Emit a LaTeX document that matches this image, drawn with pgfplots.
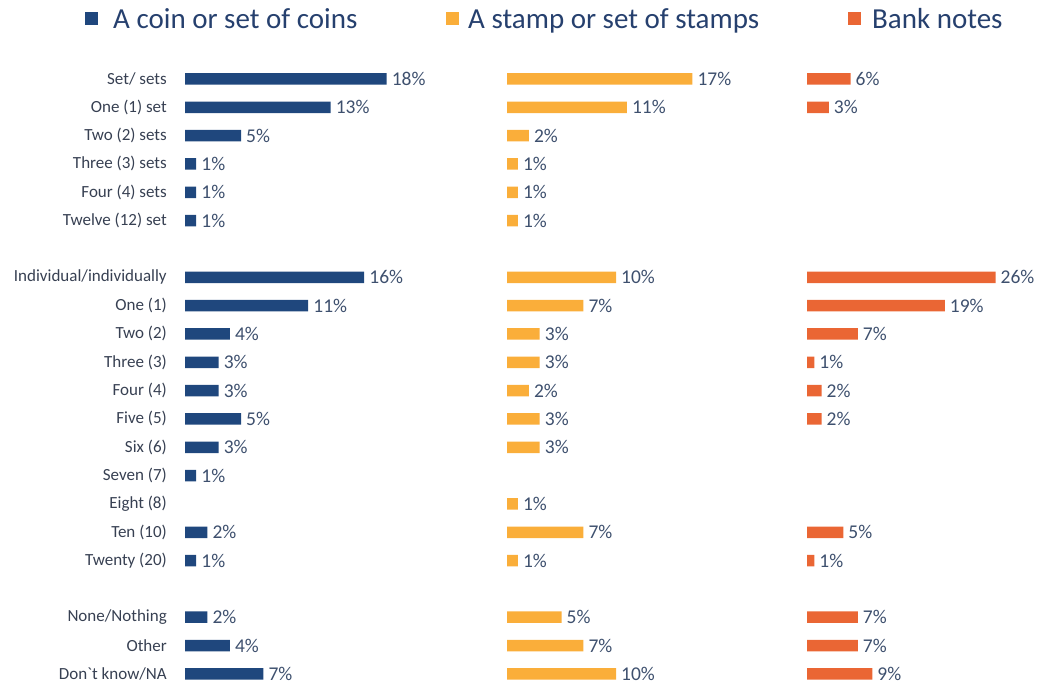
\documentclass[border=0pt]{standalone}
\usepackage{fontspec}
\setmainfont{Carlito}
\usepackage{pgfplots}
\pgfplotsset{compat=1.18}
\definecolor{coin}{RGB}{31,71,125}
\definecolor{stamp}{RGB}{250,174,58}
\definecolor{bank}{RGB}{234,102,52}
\definecolor{valtxt}{RGB}{62,80,110}
\definecolor{cattxt}{RGB}{55,64,82}
\definecolor{legtxt}{RGB}{38,64,110}

\pgfplotsset{
 panel/.style={
  y=28.33bp, y dir=reverse, ymin=-0.5, ymax=21.5,
  xmin=0,
  axis line style={draw=none}, major tick length=0pt,
  xtick=\empty,
  xbar, bar width=11.5bp,
  clip=false,
  /pgf/number format/assume math mode=true,
  nodes near coords={\pgfmathprintnumber{\pgfplotspointmeta}\%},
  every node near coord/.append style={anchor=west, inner sep=0pt, xshift=5bp, font=\fontsize{19.5bp}{22bp}\selectfont, text=valtxt},
  legend style={draw=none, fill=none, inner sep=0pt, anchor=west, font=\fontsize{29bp}{32bp}\selectfont, text=legtxt, legend cell align=left, nodes={inner sep=0pt}},
  area legend,
  legend image code/.code={\fill[##1] (0bp,-6.5bp) rectangle (13bp,6.5bp);},
 }
}

\begin{document}
\begin{tikzpicture}
% coins
\begin{axis}[panel, at={(185bp,620.2bp)}, anchor=north west, x=11.2bp, xmax=20,
  ytick={0,1,2,3,4,5,7,8,9,10,11,12,13,14,15,16,17,19,20,21},
  yticklabels={Set/ sets, One (1) set, Two (2) sets, Three (3) sets, Four (4) sets, Twelve (12) set,
    Individual/individually, One (1), Two (2), Three (3), Four (4), Five (5), Six (6), Seven (7), Eight (8), Ten (10), Twenty (20),
    None/Nothing, Other, Don\textasciigrave t know/NA},
  yticklabel style={font=\fontsize{17bp}{20bp}\selectfont, text=cattxt, inner sep=0pt, xshift=-18bp},
  legend style={at={(-0.4464,1.0735)}, column sep=15bp}]
\addplot[draw=none, fill=coin] coordinates {
 (18,0) (13,1) (5,2) (1,3) (1,4) (1,5)
 (16,7) (11,8) (4,9) (3,10) (3,11) (5,12) (3,13) (1,14) (2,16) (1,17)
 (2,19) (4,20) (7,21)};
\addlegendentry{A coin or set of coins}
\end{axis}
% stamps
\begin{axis}[panel, at={(507bp,620.2bp)}, anchor=north west, x=10.9bp, xmax=20,
  ytick=\empty,
  legend style={at={(-0.2798,1.0735)}, column sep=9bp}]
\addplot[draw=none, fill=stamp] coordinates {
 (17,0) (11,1) (2,2) (1,3) (1,4) (1,5)
 (10,7) (7,8) (3,9) (3,10) (2,11) (3,12) (3,13) (1,15) (7,16) (1,17)
 (5,19) (7,20) (10,21)};
\addlegendentry{A stamp or set of stamps}
\end{axis}
% bank notes
\begin{axis}[panel, at={(807bp,620.2bp)}, anchor=north west, x=7.25bp, xmax=30,
  ytick=\empty,
  legend style={at={(0.1885,1.0735)}, column sep=11bp}]
\addplot[draw=none, fill=bank] coordinates {
 (6,0) (3,1)
 (26,7) (19,8) (7,9) (1,10) (2,11) (2,12) (5,16) (1,17)
 (7,19) (7,20) (9,21)};
\addlegendentry{Bank notes}
\end{axis}
\pgfresetboundingbox
\path[use as bounding box] (0,0) rectangle (1037bp,685bp);
\end{tikzpicture}
\end{document}
